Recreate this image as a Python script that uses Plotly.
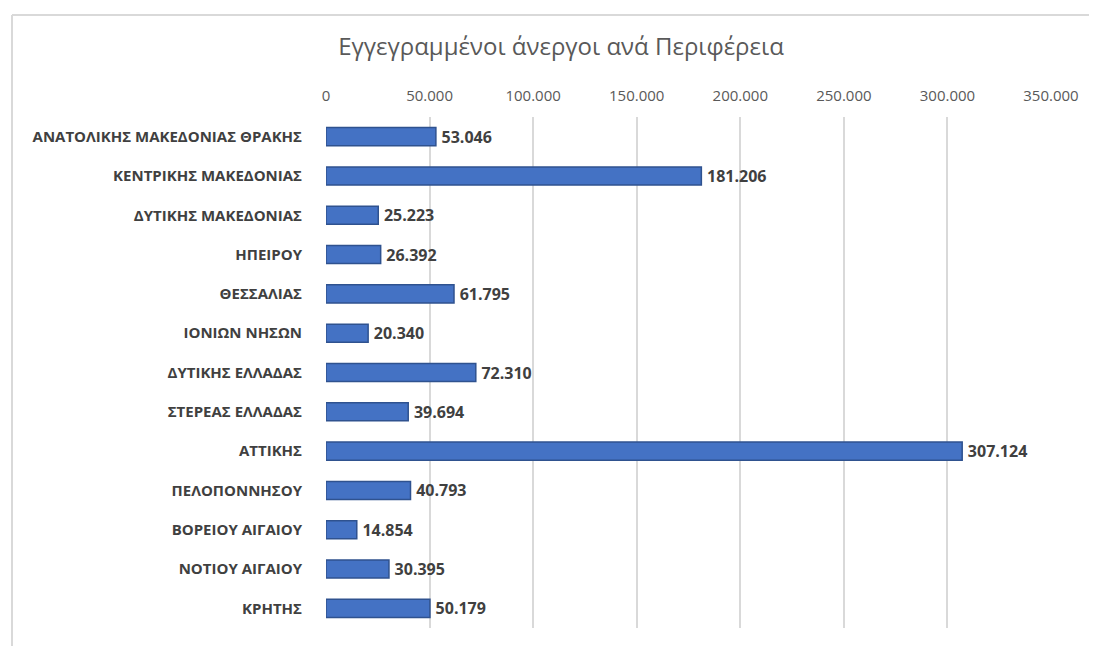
import plotly.graph_objects as go

categories = [
    "ΑΝΑΤΟΛΙΚΗΣ ΜΑΚΕΔΟΝΙΑΣ ΘΡΑΚΗΣ",
    "ΚΕΝΤΡΙΚΗΣ ΜΑΚΕΔΟΝΙΑΣ",
    "ΔΥΤΙΚΗΣ ΜΑΚΕΔΟΝΙΑΣ",
    "ΗΠΕΙΡΟΥ",
    "ΘΕΣΣΑΛΙΑΣ",
    "ΙΟΝΙΩΝ ΝΗΣΩΝ",
    "ΔΥΤΙΚΗΣ ΕΛΛΑΔΑΣ",
    "ΣΤΕΡΕΑΣ ΕΛΛΑΔΑΣ",
    "ΑΤΤΙΚΗΣ",
    "ΠΕΛΟΠΟΝΝΗΣΟΥ",
    "ΒΟΡΕΙΟΥ ΑΙΓΑΙΟΥ",
    "ΝΟΤΙΟΥ ΑΙΓΑΙΟΥ",
    "ΚΡΗΤΗΣ",
]
values = [53046, 181206, 25223, 26392, 61795, 20340, 72310, 39694, 307124, 40793, 14854, 30395, 50179]
tick_values = [0, 50000, 100000, 150000, 200000, 250000, 300000, 350000]
tick_labels = ["0", "50.000", "100.000", "150.000", "200.000", "250.000", "300.000", "350.000"]

def fmt(v):
    return "\u2009" + f"{v:,}".replace(",", ".")

W, H = 1089, 638
L, R, T, B = 318, 46, 109, 18
PW, PH = W - L - R, H - T - B

fig = go.Figure()
fig.add_trace(go.Bar(
    y=categories,
    x=values,
    orientation="h",
    marker=dict(color="#4472c4", line=dict(color="#2f528f", width=1.5)),
    text=[fmt(v) for v in values],
    textposition="outside",
    constraintext="none",
    textfont=dict(family="Open Sans", size=16, color="#404040", weight="bold"),
    cliponaxis=False,
    width=0.46,
    hoverinfo="x+y",
))

fig.update_layout(
    width=W,
    height=H,
    paper_bgcolor="white",
    plot_bgcolor="white",
    margin=dict(l=L, r=R, t=T, b=B),
    showlegend=False,
    title=dict(
        text="Εγγεγραμμένοι άνεργοι ανά Περιφέρεια",
        x=553 / W, xanchor="center",
        y=1 - 39 / H, yanchor="middle",
        font=dict(family="Open Sans", size=24, color="#595959"),
    ),
    xaxis=dict(
        side="top",
        range=[0, 350000],
        tickvals=tick_values,
        ticktext=tick_labels,
        showgrid=True,
        gridcolor="#d9d9d9",
        gridwidth=1.5,
        zeroline=False,
        showline=False,
        ticks="",
        ticklabelstandoff=12,
        tickfont=dict(family="Open Sans", size=15, color="#595959"),
    ),
    yaxis=dict(
        categoryorder="array",
        categoryarray=categories,
        autorange="reversed",
        showgrid=False,
        zeroline=False,
        showline=False,
        ticks="",
        ticklabelstandoff=23,
        tickfont=dict(family="Open Sans", size=15, color="#404040", weight="bold"),
    ),
    shapes=[
        dict(type="line", xref="paper", yref="paper",
             x0=(4 - L) / PW, x1=1 + R / PW, y0=1 + (T - 7) / PH, y1=1 + (T - 7) / PH,
             line=dict(color="#d9d9d9", width=2)),
        dict(type="line", xref="paper", yref="paper",
             x0=(4 - L) / PW, x1=(4 - L) / PW, y0=1 + (T - 7) / PH, y1=-B / PH,
             line=dict(color="#d9d9d9", width=2)),
    ],
)

fig.write_html("out.html")
